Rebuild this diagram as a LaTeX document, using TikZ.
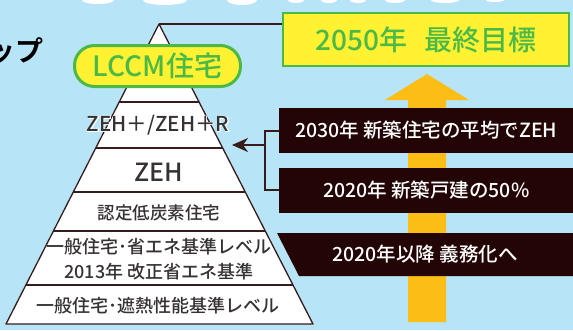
\documentclass[tikz,border=0pt]{standalone}
\usepackage{fontspec}
\setmainfont{Noto Sans CJK JP}[UprightFont=* Medium, BoldFont=* Bold]
\newfontfamily\halofont{Noto Sans CJK JP}[UprightFont=* Medium, FakeBold=6]
\usetikzlibrary{arrows.meta,calc}

\definecolor{skyblue}{RGB}{184,228,247}
\definecolor{leafgreen}{RGB}{76,184,72}
\definecolor{goalyellow}{RGB}{255,242,50}
\definecolor{arrowyellow}{RGB}{252,190,20}
\definecolor{boxbrown}{RGB}{35,5,5}
\definecolor{linebrown}{RGB}{55,28,28}
\definecolor{inkgray}{RGB}{55,50,50}

\newcommand\fsz[1]{\fontsize{#1}{#1}\selectfont}
\newcommand\haloed[1]{\rlap{\halofont\color{white}#1}#1}

\begin{document}
\begin{tikzpicture}[x=1pt,y=-1pt]
        \tikzstyle{every node}=[inner sep=0pt]
        \tikzstyle{layertext}=[text=inkgray, font=\fsz{18}]
        \tikzstyle{darkbox}=[fill=boxbrown, text=white, font=\fsz{19.5}, minimum width=294pt, minimum height=45pt]
        \tikzstyle{link}=[draw=linebrown, line width=2pt]

        \fill[skyblue] (0,0) rectangle (573,330);
        \useasboundingbox (0,0) rectangle (573,330);
        \clip (0,0) rectangle (573,330);

        % bottoms of the white heading letters
        \foreach \cx/\rx/\ry in {98/16/4, 165/22/5, 242/15/5, 296/8/3, 329/8/3, 358/8/3, 395/10/3, 445/14/3, 495/9/2}
            \fill[white] (\cx,0) ellipse ({\rx pt} and {\ry pt});

        \node[anchor=east, text=black, font=\fsz{28}\bfseries] (heading) at (44,51) {ップ};

        % arrow towards the goal
        \fill[arrowyellow] (408,322) -- (408,100) -- (385,100) -- (427,74) -- (469,100) -- (446,100) -- (446,322) -- cycle;

        % pyramid
        \coordinate (apex) at (159,24);
        \coordinate (bl) at (6,324);
        \coordinate (br) at (313,324);
        \filldraw[fill=white, draw=linebrown, line width=1.3pt, line join=round] (apex) -- (br) -- (bl) -- cycle;
        \foreach \yy [evaluate=\yy as \ff using (\yy-24)/300] in {102,148,192,231,285}
            \draw[linebrown, line width=1.3pt] ($(apex)!\ff!(bl)$) -- ($(apex)!\ff!(br)$);

        \node[layertext, font=\fsz{20.5}] (zehplus) at (158,125) {\haloed{ZEH＋/ZEH＋R}};
        \node[layertext, font=\fsz{25}] (zeh) at (159,172) {ZEH};
        \node[layertext, font=\fsz{17.5}] (teitanso) at (159,213) {認定低炭素住宅};
        \node[layertext, align=center, font=\fontsize{18}{25}\selectfont] (shoene) at (159,259) {一般住宅･省エネ基準レベル\\2013年 改正省エネ基準};
        \node[layertext] (shanetsu) at (158,306) {一般住宅･遮熱性能基準レベル};

        \node[fill=goalyellow, draw=leafgreen, line width=3pt, rounded corners=20pt, minimum width=166pt, minimum height=41pt, text=leafgreen, font=\fsz{28}] (lccm) at (157.5,66) {LCCM住宅};

        % goal
        \node[fill=goalyellow, draw=leafgreen, line width=2.5pt, minimum width=286pt, minimum height=53pt, text=leafgreen, font=\fsz{28}] (goal) at (426,39.5) {2050年\hspace{.6em}最終目標};
        \draw[link] (apex) -- (apex -| goal.west);

        % milestones
        \node[darkbox, anchor=west] (zeh2030) at (279,130.5) {2030年 新築住宅の平均でZEH};
        \node[darkbox, anchor=west] (zeh2020) at (279,190) {2020年 新築戸建の50\%};
        \fill[boxbrown] (277,233) -- (575,233) -- (575,276) -- (299,276) -- cycle;
        \node[text=white, font=\fsz{19.5}] (gimu) at (425,254.5) {2020年以降 義務化へ};

        \draw[link] (zeh2030.west) -- ++(-14,0) |- (zeh2020.west);
        \coordinate (fork) at (265,145);
        \coordinate (zehtip) at (232,145);
        \draw[link, -{Stealth[length=16pt,width=14pt,inset=5pt]}] (fork) -- (zehtip);
\end{tikzpicture}
\end{document}
